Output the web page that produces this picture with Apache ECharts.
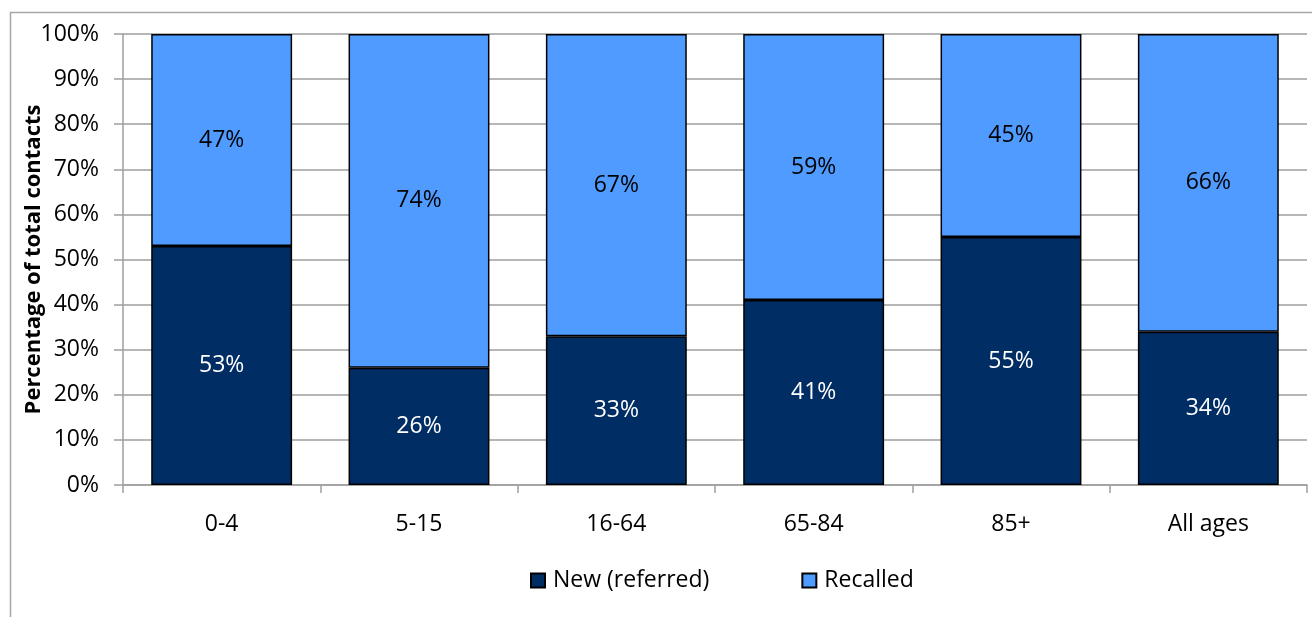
<!DOCTYPE html>
<html>
<head>
<meta charset="utf-8">
<script src="https://cdn.jsdelivr.net/npm/echarts@6/dist/echarts.min.js"></script>
<style>
  html, body { margin: 0; padding: 0; background: #fff; }
  #chart { width: 1312px; height: 617px; }
</style>
</head>
<body>
<div id="chart"></div>
<script>
// Age groups and share of contacts (percent) by contact type
const categories = ['0-4', '5-15', '16-64', '65-84', '85+', 'All ages'];
const newReferred = [53, 26, 33, 41, 55, 34];
const recalled = [47, 74, 67, 59, 45, 66];
const yTicks = [0, 10, 20, 30, 40, 50, 60, 70, 80, 90, 100];

const FONT = '"Open Sans", sans-serif';
const FS = 23;
const DARK = '#002D64';
const LIGHT = '#4F9BFF';
const GRID = '#9E9E9E';

const chart = echarts.init(document.getElementById('chart'), null, { renderer: 'canvas' });

const segLabel = (color) => ({
  show: true,
  position: 'inside',
  color: color,
  fontFamily: FONT,
  fontSize: FS,
  formatter: (p) => p.value + '%'
});

chart.setOption({
  animation: false,
  backgroundColor: '#fff',
  graphic: [{
    type: 'rect',
    shape: { x: 10.5, y: 12.5, width: 1400, height: 700 },
    style: { fill: 'none', stroke: '#A6A6A6', lineWidth: 1.5 },
    silent: true,
    z: -1
  }],
  grid: { left: 123, right: 5, top: 34, bottom: 132 },
  legend: {
    top: 564,
    left: 525,
    itemWidth: 14,
    itemHeight: 14,
    itemGap: 92,
    icon: 'rect',
    textStyle: { fontFamily: FONT, fontSize: FS, color: '#000', padding: [0, 0, 0, 3] },
    data: ['New (referred)', 'Recalled']
  },
  xAxis: {
    type: 'category',
    data: categories,
    axisLine: { lineStyle: { color: GRID, width: 1.5 } },
    axisTick: { show: true, alignWithLabel: false, length: 8, lineStyle: { color: GRID, width: 1.5 } },
    axisLabel: { fontFamily: FONT, fontSize: FS, color: '#000', margin: 28 }
  },
  yAxis: {
    type: 'value',
    min: 0,
    max: 100,
    interval: 10,
    name: 'Percentage of total contacts',
    nameLocation: 'middle',
    nameGap: 78,
    nameMoveOverlap: false,
    nameTextStyle: { fontFamily: FONT, fontSize: FS - 1, fontWeight: 'bold', color: '#000' },
    axisLine: { show: true, lineStyle: { color: GRID, width: 1.5 } },
    axisTick: { show: true, length: 9, lineStyle: { color: GRID, width: 1.5 } },
    splitLine: { lineStyle: { color: GRID, width: 1.5 } },
    axisLabel: {
      fontFamily: FONT, fontSize: FS, color: '#000', margin: 24,
      formatter: (v) => yTicks.includes(v) ? v + '%' : ''
    }
  },
  series: [
    {
      name: 'New (referred)',
      type: 'bar',
      stack: 'total',
      data: newReferred,
      barCategoryGap: '28.6%',
      itemStyle: { color: DARK, borderColor: '#000', borderWidth: 1.5 },
      label: segLabel('#fff')
    },
    {
      name: 'Recalled',
      type: 'bar',
      stack: 'total',
      data: recalled,
      barCategoryGap: '28.6%',
      itemStyle: { color: LIGHT, borderColor: '#000', borderWidth: 1.5 },
      label: segLabel('#000')
    }
  ]
});
</script>
</body>
</html>
